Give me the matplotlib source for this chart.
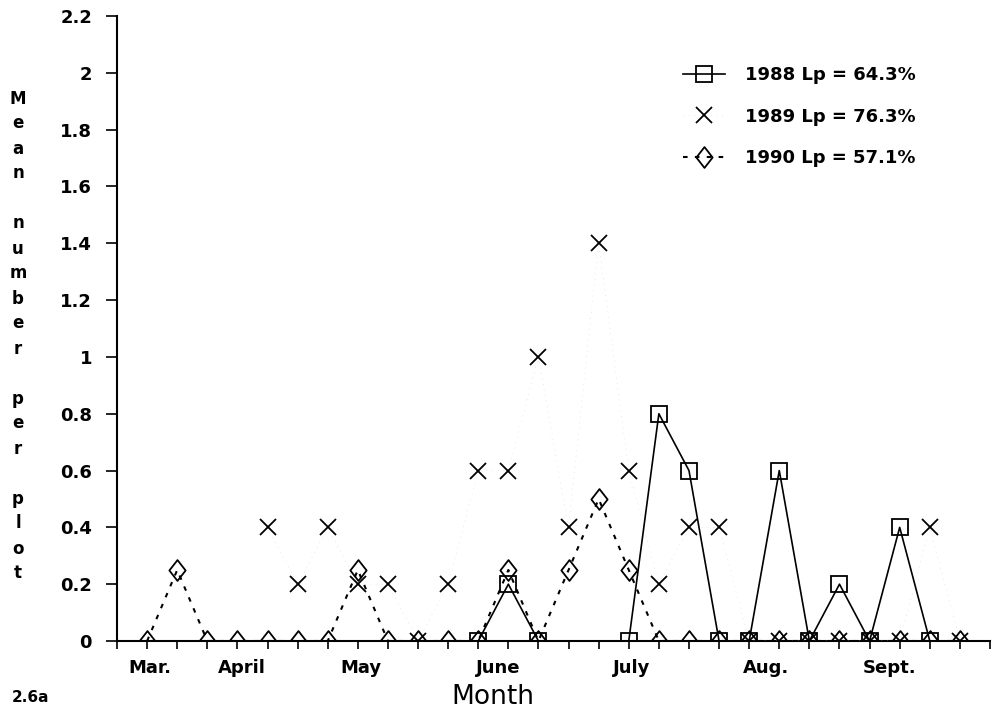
import numpy as np
import matplotlib
matplotlib.use("Agg")
import matplotlib.pyplot as plt
from matplotlib.path import Path

nan = np.nan
# sampling index (biweekly-ish sampling dates)
idx = list(range(28))
y1988 = [nan]*11 + [0, 0.2, 0, nan, nan, 0, 0.8, 0.6, 0, 0, 0.6, 0, 0.2, 0, 0.4, 0, nan]
y1989 = [nan]*4 + [0.4, 0.2, 0.4, 0.2, 0.2, 0, 0.2, 0.6, 0.6, 1.0, 0.4, 1.4, 0.6, 0.2,
                   0.4, 0.4, 0, 0, 0, 0, 0, 0, 0.4, 0]
y1990 = [0, 0.25, 0, 0, 0, 0, 0, 0.25, 0, 0, 0, 0, 0.25, 0, 0.25, 0.5, 0.25, 0,
         0, 0, 0, 0, 0, 0, 0, 0, 0, 0]
labels = ["1988 Lp = 64.3%", "1989 Lp = 76.3%", "1990 Lp = 57.1%"]
months = ["Mar.", "April", "May", "June", "July", "Aug.", "Sept."]
month_pos = [0.1, 3.15, 7.1, 11.65, 16.1, 20.55, 24.65]
yticks = [0, 0.2, 0.4, 0.6, 0.8, 1, 1.2, 1.4, 1.6, 1.8, 2, 2.2]
ytick_labels = ["0", "0.2", "0.4", "0.6", "0.8", "1", "1.2", "1.4", "1.6", "1.8", "2", "2.2"]

plt.rcParams['font.family'] = ['DejaVu Sans']

fig = plt.figure(figsize=(9.97, 7.2), dpi=100)
W, H = 997, 720
ax = fig.add_axes([117/W, 1-641/H, (990-117)/W, (641-16)/H])

diamond = Path([(0, 1), (0.78, 0), (0, -1), (-0.78, 0), (0, 1)],
               [Path.MOVETO, Path.LINETO, Path.LINETO, Path.LINETO, Path.CLOSEPOLY])

ax.plot(idx, y1988, color='black', lw=1.2, marker='s', markersize=11,
        fillstyle='none', markeredgewidth=1.3, label=labels[0], zorder=4)
ax.plot(idx, y1989, color='#d4d4d4', lw=0.5, linestyle=(0, (1, 7)), marker='x', markersize=12,
        markeredgecolor='black', markeredgewidth=1.3, label=labels[1], zorder=3)
ax.plot(idx, y1990, color='black', lw=1.5, linestyle=(0, (2.2, 3.5)), marker=diamond,
        markersize=15, fillstyle='none', markeredgewidth=1.3, markeredgecolor='black',
        label=labels[2], zorder=3)

ax.set_xlim(-1, 28)
ax.set_ylim(0, 2.2)
ax.set_xticks(range(-1, 29))
ax.set_xticklabels([])
ax.set_yticks(yticks)
ax.set_yticklabels(ytick_labels, fontsize=13, fontweight='bold')
ax.tick_params(axis='y', direction='out', length=8, width=1.2, pad=10)
ax.tick_params(axis='x', direction='out', length=6, width=1.2)
for s in ['top', 'right']:
    ax.spines[s].set_visible(False)
for s in ['left', 'bottom']:
    ax.spines[s].set_linewidth(1.5)
ax.spines['left'].set_zorder(1)

for m, p in zip(months, month_pos):
    ax.text(p, -0.095, m, ha='center', va='center', fontsize=13, fontweight='bold',
            transform=ax.transData, clip_on=False)

fig.text(493/W, 1-697/H, "Month", ha='center', va='center', fontsize=19)
fig.text(30/W, 1-697/H, "2.6a", ha='center', va='center', fontsize=11, fontweight='bold')

ylab = "M\ne\na\nn\n\nn\nu\nm\nb\ne\nr\n\np\ne\nr\n\np\nl\no\nt"
fig.text(18/W, 1-336/H, ylab, ha='center', va='center', fontsize=12, fontweight='bold',
         linespacing=1.5)

leg = ax.legend(loc='upper left', bbox_to_anchor=(667/W, 1-50/H),
                bbox_transform=fig.transFigure, frameon=False, fontsize=13,
                handlelength=2.3, handletextpad=1.1, labelspacing=1.3,
                prop={'weight': 'bold', 'size': 13})

fig.savefig("out.png", dpi=100)
